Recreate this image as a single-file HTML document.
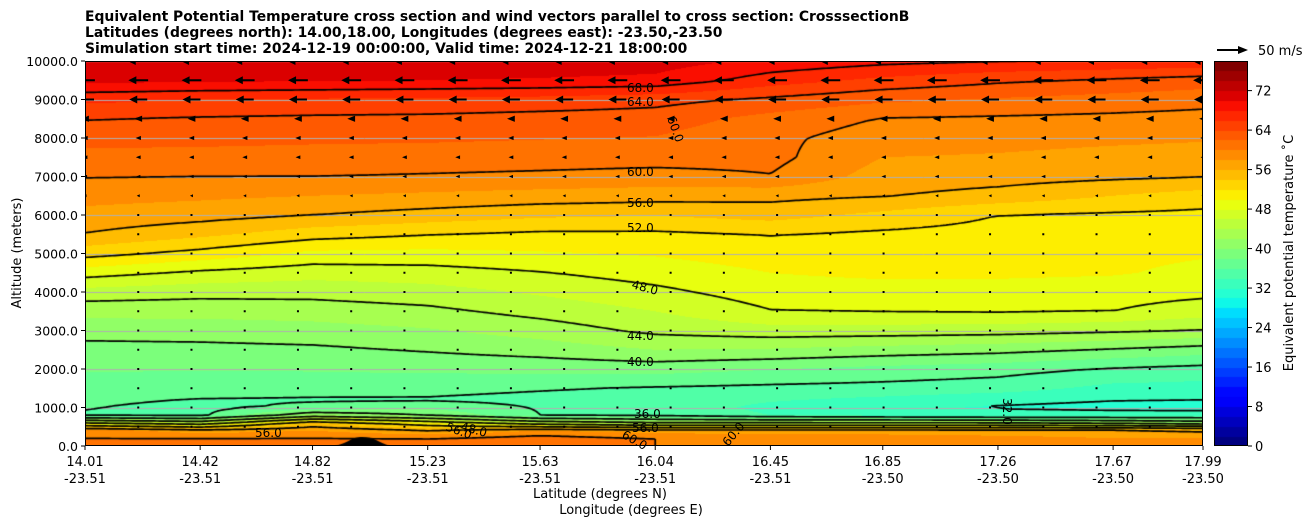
<!DOCTYPE html>
<html><head><meta charset="utf-8">
<style>
body{margin:0;background:#fff;}
#wrap{position:relative;width:1308px;height:526px;overflow:hidden;font-family:"DejaVu Sans","Liberation Sans",sans-serif;}
canvas{position:absolute;}
svg{position:absolute;left:0;top:0;font-family:"DejaVu Sans","Liberation Sans",sans-serif;}
</style></head>
<body>
<div id="wrap">
<canvas id="plot" width="1118" height="385" style="left:85px;top:61px"></canvas>
<canvas id="cbar" width="34" height="385" style="left:1214px;top:61px"></canvas>
<svg id="ov" width="1308" height="526">
<g font-weight="bold" font-size="13.9" fill="#000">
<text x="85" y="21">Equivalent Potential Temperature cross section and wind vectors parallel to cross section: CrosssectionB</text>
<text x="85" y="37">Latitudes (degrees north): 14.00,18.00, Longitudes (degrees east): -23.50,-23.50</text>
<text x="85" y="53">Simulation start time: 2024-12-19 00:00:00, Valid time: 2024-12-21 18:00:00</text>
</g>
<text x="600" y="498" font-size="13" text-anchor="middle">Latitude (degrees N)</text>
<text x="631" y="514" font-size="13" text-anchor="middle">Longitude (degrees E)</text>
<text transform="translate(21,253) rotate(-90)" font-size="13" text-anchor="middle">Altitude (meters)</text>
<text transform="translate(1293,253) rotate(-90)" font-size="13" text-anchor="middle">Equivalent potential temperature ˚C</text>
<g>
<line x1="1217" y1="50" x2="1240" y2="50" stroke="#000" stroke-width="2"/>
<polygon points="1248,50 1238,46 1238,54" fill="#000"/>
<text x="1258" y="55" font-size="13">50 m/s</text>
</g>
<g id="grid"></g><g id="quiv"></g><g id="axes"></g>
<g font-size="12" fill="#000">
<text x="627" y="92">68.0</text>
<text x="627" y="106">64.0</text>
<text x="627" y="176">60.0</text>
<text x="627" y="207">56.0</text>
<text x="627" y="232">52.0</text>
<text transform="translate(631,288) rotate(15)">48.0</text>
<text x="627" y="340">44.0</text>
<text x="627" y="366">40.0</text>
<text transform="translate(667,118) rotate(70)">60.0</text>
<text transform="translate(1003,398) rotate(90)">32.0</text>
<text x="634" y="418">36.0</text>
<text x="632" y="432">56.0</text>
<text x="255" y="437">56.0</text>
<text transform="translate(445,430) rotate(20)">56.0</text>
<text transform="translate(460,430) rotate(15)">48.0</text>
<text transform="translate(621,437) rotate(30)">60.0</text>
<text transform="translate(728,447) rotate(-50)">60.0</text>
</g>
</svg>
</div>
<script>
const colLat=[14.01,14.42,14.82,15.23,15.63,16.04,16.45,16.85,17.26,17.67,17.99];
const rowZ=[0,200,400,600,800,1000,1200,1500,2000,2500,3000,3500,4000,4500,5000,5500,6000,6500,7000,7500,8000,8500,9000,9500,10000];
const theta=[
[61,61,62,60,61,60,59,59,59,58.5,58],
[60,60,60,60,61,60,59,59,58.5,58,58],
[59,57,58,56,58,57,57,57,57,57,56],
[48,46,54,50,46,44,44,44,44,43,42],
[35.8,35.5,42,40,36,35.5,34,33.5,33,33,33],
[36.1,35.4,36.5,37.5,35.8,35.2,33.5,32.5,31.8,31.4,31.3],
[36.4,35.9,35.8,35.8,35.4,35.0,34.2,33.5,32.6,32.1,32.0],
[37.1,36.9,36.7,36.6,36.2,35.8,35.5,35.3,34.9,33.4,33.2],
[38.2,38.1,38.2,38.4,38.6,38.8,38.1,37.4,36.8,35.8,35.3],
[39.3,39.4,39.6,40.2,40.9,42.0,41.8,41.2,40.7,39.8,39.0],
[40.8,40.9,41.2,41.8,42.9,44.5,45.2,45.1,44.9,44.4,43.9],
[42.7,42.7,42.9,43.5,44.7,46.0,47.9,48.1,48.2,48.0,47.0],
[45.2,44.7,44.7,45.2,46.3,47.5,49.0,49.0,48.9,48.8,48.5],
[48.9,47.6,46.8,47.1,47.9,48.9,50.0,50.5,50.5,50.2,49.5],
[52.8,51.3,49.5,49.4,49.8,50.2,51.0,51.0,50.8,50.5,50.2],
[55.9,54.5,52.9,52.1,51.6,51.6,52.1,51.6,51.2,51.0,50.7],
[57.4,56.8,56.0,55.2,54.4,54.1,54.8,53.5,52.0,51.7,51.5],
[58.7,58.4,58.0,57.6,57.2,56.9,56.6,56.1,55.3,54.0,53.1],
[60.1,60.0,60.0,59.8,59.6,59.3,59.9,57.1,56.8,56.4,56.1],
[61.4,61.3,61.2,61.1,60.9,60.8,60.6,58.0,57.8,57.4,57.2],
[62.7,62.6,62.4,62.3,62.1,61.9,60.5,59.0,58.7,58.4,58.2],
[64.1,63.8,63.6,63.5,63.2,63.0,61.3,59.9,59.7,59.5,59.3],
[66.5,66.0,65.8,65.6,65.3,64.7,63.6,62.4,61.8,61.2,60.7],
[70.6,70.4,70.2,70.0,69.8,69.5,67.0,65.5,64.4,63.7,63.1],
[72.0,72.0,71.8,71.6,71.4,71.0,69.5,68.6,68.1,67.8,67.5]];
const windZ=[500,1000,1500,2000,2500,3000,3500,4000,4500,5000,5500,6000,6500,7000,7500,8000,8500,9000,9500,10000];
const windU=[1,2,1.5,-1,-1,-1,-1,-1,-1,-1.5,-2.5,-4,-5,-7,-8,-9,-13,-30,-33,-35];
const xTicks=[14.01,14.42,14.82,15.23,15.63,16.04,16.45,16.85,17.26,17.67,17.99];
const xTickLon=["-23.51","-23.51","-23.51","-23.51","-23.51","-23.51","-23.51","-23.50","-23.50","-23.50","-23.50"];
const yTicks=[0,1000,2000,3000,4000,5000,6000,7000,8000,9000,10000];
const cbTicks=[0,8,16,24,32,40,48,56,64,72];
const contourLevels=[32,36,40,44,48,52,56,60,64,68];

const X0=85,X1=1203,Y0=446,Y1=61,W=1118,H=385,LAT0=14.01,LAT1=17.99,VMAX=78;
const sx=l=>X0+(l-LAT0)/(LAT1-LAT0)*W;
const sy=z=>Y0-z/10000*H;
function jet(t){const seg=(p)=>{for(let i=0;i<p.length-1;i++){if(t<=p[i+1][0]){const a=p[i],b=p[i+1];return a[1]+(b[1]-a[1])*(t-a[0])/(b[0]-a[0]);}}return p[p.length-1][1];};
 return [seg([[0,0],[0.35,0],[0.66,1],[0.89,1],[1,0.5]]),seg([[0,0],[0.125,0],[0.375,1],[0.64,1],[0.91,0],[1,0]]),seg([[0,0.5],[0.11,1],[0.34,1],[0.65,0],[1,0]])].map(v=>Math.round(v*255));}
function bandColor(v){let i=Math.floor(v/2);i=Math.max(0,Math.min(38,i));return jet(i/38);}
function idx(arr,v){let i=0;while(i<arr.length-2&&v>arr[i+1])i++;const t=(v-arr[i])/(arr[i+1]-arr[i]);return [i,Math.max(0,Math.min(1,t))];}
function field(lat,z){const [ci,ct]=idx(colLat,lat);const [ri,rt]=idx(rowZ,z);
 const a=theta[ri][ci],b=theta[ri][ci+1],c=theta[ri+1][ci],d=theta[ri+1][ci+1];
 return (a*(1-ct)+b*ct)*(1-rt)+(c*(1-ct)+d*ct)*rt;}
const cv=document.getElementById('plot'),ctx=cv.getContext('2d');
const img=ctx.createImageData(W,H);
for(let py=0;py<H;py++){const z=(H-py-0.5)/H*10000;for(let px=0;px<W;px++){const lat=LAT0+(px+0.5)/W*(LAT1-LAT0);const c=bandColor(field(lat,z));const k=(py*W+px)*4;img.data[k]=c[0];img.data[k+1]=c[1];img.data[k+2]=c[2];img.data[k+3]=255;}}
ctx.putImageData(img,0,0);
ctx.strokeStyle='#b0b0b0';ctx.lineWidth=1;
yTicks.forEach(t=>{const y=Math.round(sy(t)-Y1)+0.5;ctx.beginPath();ctx.moveTo(0,y);ctx.lineTo(W,y);ctx.stroke();});
const S=3,nx=Math.ceil(W/S)+1,ny=Math.ceil(H/S)+1,G=[];
for(let j=0;j<ny;j++){G.push([]);const z=(H-Math.min(j*S,H))/H*10000;for(let i=0;i<nx;i++){const lat=LAT0+Math.min(i*S,W)/W*(LAT1-LAT0);G[j].push(field(lat,z));}}
ctx.strokeStyle='#000';ctx.lineWidth=1.7;ctx.beginPath();
contourLevels.forEach(L=>{for(let j=0;j<ny-1;j++)for(let i=0;i<nx-1;i++){
 const a=G[j][i],b=G[j][i+1],c=G[j+1][i+1],d=G[j+1][i];const p=[];
 const e=(v1,v2,x1,y1,x2,y2)=>{if((v1<L)!==(v2<L)){const t=(L-v1)/(v2-v1);p.push([x1+(x2-x1)*t,y1+(y2-y1)*t]);}};
 const x=i*S,y=j*S;e(a,b,x,y,x+S,y);e(b,c,x+S,y,x+S,y+S);e(c,d,x+S,y+S,x,y+S);e(d,a,x,y+S,x,y);
 for(let k=0;k+1<p.length;k+=2){ctx.moveTo(p[k][0],p[k][1]);ctx.lineTo(p[k+1][0],p[k+1][1]);}}});
ctx.stroke();
ctx.fillStyle='#000';ctx.beginPath();ctx.moveTo(335-X0,H);ctx.bezierCurveTo(350-X0,H-4,352-X0,H-9,362-X0,H-9);ctx.bezierCurveTo(374-X0,H-9,378-X0,H-4,390-X0,H);ctx.fill();
const cb=document.getElementById('cbar').getContext('2d');
for(let i=0;i<39;i++){const c=jet(i/38);cb.fillStyle=`rgb(${c[0]},${c[1]},${c[2]})`;const y0=H-(i+1)*2/VMAX*H,y1=H-i*2/VMAX*H;cb.fillRect(0,Math.floor(y0),34,Math.ceil(y1)-Math.floor(y0));}
const NS='http://www.w3.org/2000/svg';
function mk(tag,attrs,parent,txt){const el=document.createElementNS(NS,tag);for(const k in attrs)el.setAttribute(k,attrs[k]);if(txt!==undefined)el.textContent=txt;parent.appendChild(el);return el;}
const axes=document.getElementById('axes');
mk('rect',{x:X0+0.5,y:Y1+0.5,width:W-1,height:H-1,fill:'none',stroke:'#000','stroke-width':1},axes);
mk('rect',{x:1214.5,y:61.5,width:33,height:384,fill:'none',stroke:'#000','stroke-width':1},axes);
yTicks.forEach(t=>{const y=sy(t);
 const tk=mk('line',{x1:X0-4,y1:y,x2:X0,y2:y,stroke:'#000'},axes);
 
 
 const lb=mk('text',{x:X0-7,y:y+5,'font-size':12.5,'text-anchor':'end'},axes,t.toFixed(1));
 
 });
xTicks.forEach((t,i)=>{const x=sx(t);
 const tk=mk('line',{x1:x,y1:Y0,x2:x,y2:Y0+4,stroke:'#000'},axes);
 
 
 const lb=mk('text',{x:x,y:466,'font-size':13,'text-anchor':'middle'},axes,t.toFixed(2));
 
 
 const lb2=mk('text',{x:x,y:483,'font-size':13,'text-anchor':'middle'},axes,xTickLon[i]);
 
 });
cbTicks.forEach(t=>{const y=Y0-t/VMAX*H;
 const tk=mk('line',{x1:1248,y1:y,x2:1252,y2:y,stroke:'#000'},axes);
 
 
 const lb=mk('text',{x:1255,y:y+5,'font-size':13},axes,String(t));
 
 });
const q=document.getElementById('quiv');
const PXMS=0.6,NCOL=22,DX=W/21;
windZ.forEach((z,r)=>{const y=sy(z);const u=windU[r];const len=Math.abs(u)*PXMS;const dir=u<0?-1:1;
 for(let k=0;k<NCOL;k++){const cx=X0+k*DX;const tip=cx+dir*len/2,tail=cx-dir*len/2;let el;
  if(len<2.5){el=mk('rect',{x:cx-1,y:y-1,width:2,height:2,fill:'#000'},q);}
  else if(len<9){const hw=Math.max(1.5,len*0.4);el=mk('polygon',{points:`${tip},${y} ${tail},${y-hw} ${tail},${y+hw}`,fill:'#000'},q);}
  else{const hb=tip-dir*8;el=mk('path',{d:`M${tail},${y-1}L${hb},${y-1}L${hb},${y-4}L${tip},${y}L${hb},${y+4}L${hb},${y+1}L${tail},${y+1}Z`,fill:'#000'},q);}
  
  }});
q.setAttribute('clip-path','url(#clipPlot)');
const defs=mk('defs',{},document.getElementById('ov'));const cp=mk('clipPath',{id:'clipPlot'},defs);mk('rect',{x:X0,y:Y1,width:W,height:H},cp);
</script>
</body></html>
